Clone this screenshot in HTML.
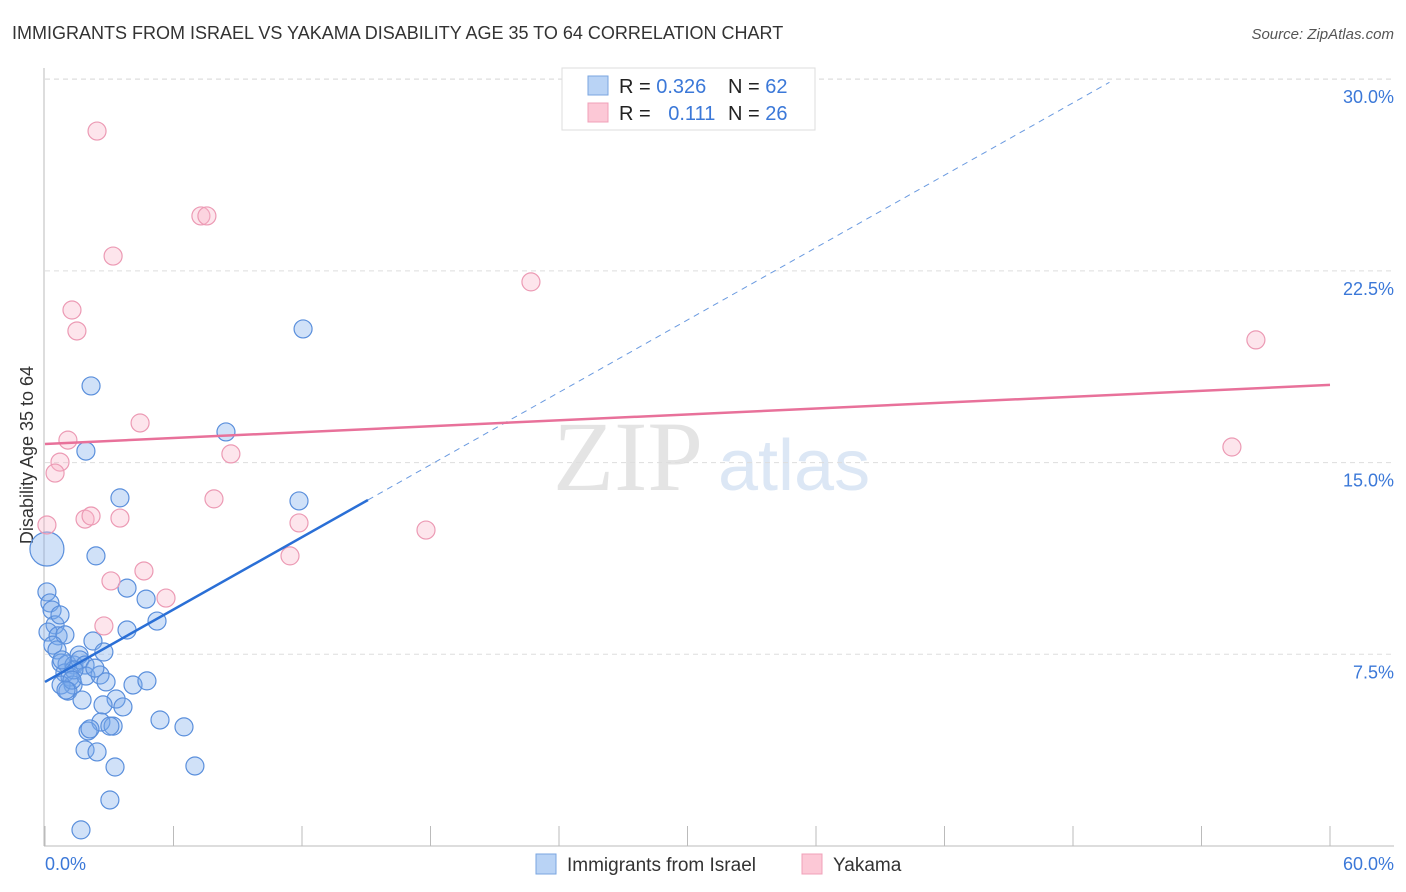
<!DOCTYPE html>
<html><head><meta charset="utf-8"><style>
body{margin:0;background:#fff;font-family:"Liberation Sans",sans-serif;}
svg{display:block}
</style></head><body>
<svg id="chart" width="1406" height="892" xmlns="http://www.w3.org/2000/svg">
<text x="12" y="39" font-size="18" fill="#333">IMMIGRANTS FROM ISRAEL VS YAKAMA DISABILITY AGE 35 TO 64 CORRELATION CHART</text>
<text x="1394" y="39" font-size="15" fill="#555" font-style="italic" text-anchor="end">Source: ZipAtlas.com</text>
<text x="553" y="490" font-size="100" fill="#e4e4e4" font-family="Liberation Serif,serif">ZIP</text>
<text x="718" y="490" font-size="72" fill="#dce7f5">atlas</text>
<text transform="translate(33,455) rotate(-90)" font-size="18" fill="#333" text-anchor="middle">Disability Age 35 to 64</text>
<g id="grid"></g><g id="axes"></g><g id="marks"></g>
<g>
<rect x="562" y="68" width="253" height="62" fill="#fff" stroke="#ddd"/>
<rect x="588" y="76" width="20" height="19" fill="#b9d3f5" stroke="#7aa6e0"/>
<rect x="588" y="103" width="20" height="19" fill="#fcc8d6" stroke="#f0a0b8"/>
<text x="619" y="93" font-size="20" fill="#222">R = <tspan fill="#3b78d8">0.326</tspan></text>
<text x="728" y="93" font-size="20" fill="#222">N = <tspan fill="#3b78d8">62</tspan></text>
<text x="619" y="120" font-size="20" fill="#222">R = <tspan fill="#3b78d8" dx="12">0.111</tspan></text>
<text x="728" y="120" font-size="20" fill="#222">N = <tspan fill="#3b78d8">26</tspan></text>
</g>
<g>
<rect x="536" y="854" width="20" height="20" fill="#b9d3f5" stroke="#7aa6e0"/>
<text x="567" y="871" font-size="19" fill="#333">Immigrants from Israel</text>
<rect x="802" y="854" width="20" height="20" fill="#fcc8d6" stroke="#f0a0b8"/>
<text x="833" y="871" font-size="19" fill="#333">Yakama</text>
</g>
</svg>
<script>
const israelX=[0.09,0.09,0.23,0.33,0.47,0.14,0.61,0.93,0.37,0.56,0.75,1.03,1.35,0.93,1.17,1.31,0.75,1.07,1.59,1.63,1.87,1.91,2.24,2.15,1.91,2.38,3.50,3.83,3.83,4.72,5.23,2.75,2.57,2.85,2.33,1.73,3.32,3.64,4.11,4.76,2.71,2.61,3.18,2.01,2.10,1.87,2.43,3.27,3.03,1.68,5.37,6.49,7.00,8.45,12.05,11.86,3.03,1.35,1.26,0.98,0.79,0.70];
const israelY=[11.62,9.94,9.51,9.23,8.65,8.37,8.22,8.26,7.86,7.67,7.16,7.12,7.08,6.77,6.61,6.30,6.30,6.06,7.47,7.28,7.08,6.65,8.02,18.0,15.45,11.35,13.62,10.09,8.45,9.66,8.80,7.59,6.69,6.42,6.96,5.71,5.75,5.44,6.30,6.46,5.52,4.85,4.69,4.50,4.58,3.76,3.68,3.09,1.80,0.63,4.93,4.66,3.13,16.2,20.23,13.5,4.69,6.89,6.49,6.10,7.28,9.04];
const yakamaX=[2.43,7.28,7.56,3.18,1.26,1.49,4.44,1.07,0.70,0.47,0.09,1.87,2.15,3.50,7.89,8.68,3.08,4.62,5.65,2.75,11.86,11.44,17.79,22.69,56.54,55.42];
const yakamaY=[27.97,24.65,24.65,23.08,20.97,20.15,16.55,15.88,15.02,14.59,12.56,12.79,12.91,12.83,13.58,15.34,10.37,10.76,9.70,8.61,12.64,11.35,12.36,22.07,19.8,15.61];
const yTicks=[7.5,15.0,22.5,30.0];
const yTickLabels=["7.5%","15.0%","22.5%","30.0%"];
const xTicks=[0,6,12,18,24,30,36,42,48,54,60];
const israelTrend=[6.42,0.472];
const yakamaTrend=[15.73,0.0385];

const NS="http://www.w3.org/2000/svg";
const X=v=>45+v*1285/60, Y=v=>846-v*25.56;
function mk(tag,attrs,parent){const e=document.createElementNS(NS,tag);for(const k in attrs)e.setAttribute(k,attrs[k]);document.getElementById(parent).appendChild(e);return e;}
yTicks.forEach((t,i)=>{
  const l=mk('line',{x1:45,x2:1394,y1:Y(t),y2:Y(t),stroke:'#ddd','stroke-dasharray':'5,4'},'grid');
  
  
  const tx=mk('text',{x:1394,y:Y(t)+24,'font-size':18,fill:'#3b78d8','text-anchor':'end'},'axes');
  tx.textContent=yTickLabels[i];
  
  
});
const gtop=mk('line',{x1:45,x2:1394,y1:79,y2:79,stroke:'#ddd','stroke-dasharray':'5,4'},'grid');


const ya=mk('line',{x1:44,x2:44,y1:68,y2:846,stroke:'#bbb'},'axes');


const xa=mk('line',{x1:44,x2:1394,y1:846,y2:846,stroke:'#bbb'},'axes');


xTicks.forEach(t=>{
  const l=mk('line',{x1:X(t),x2:X(t),y1:826,y2:846,stroke:'#bbb'},'axes');
  
  
});
const xl0=mk('text',{x:45,y:870,'font-size':18,fill:'#3b78d8'},'axes');xl0.textContent='0.0%';


const xl1=mk('text',{x:1394,y:870,'font-size':18,fill:'#3b78d8','text-anchor':'end'},'axes');xl1.textContent='60.0%';


israelX.forEach((x,i)=>{
  const c=mk('circle',{cx:X(x),cy:Y(israelY[i]),r:(i===0?17:9),fill:'rgba(120,170,235,0.35)',stroke:'#5a8fdc','stroke-width':1.2},'marks');
  
  
});
yakamaX.forEach((x,i)=>{
  const c=mk('circle',{cx:X(x),cy:Y(yakamaY[i]),r:9,fill:'rgba(250,180,200,0.35)',stroke:'#ec9ab4','stroke-width':1.2},'marks');
  
  
});
const ie=15.08, id=49.7;
const t1=mk('line',{x1:X(0),y1:Y(israelTrend[0]),x2:X(ie),y2:Y(israelTrend[0]+israelTrend[1]*ie),stroke:'#2a6fd6','stroke-width':2.5},'marks');


const t2=mk('line',{x1:X(ie),y1:Y(israelTrend[0]+israelTrend[1]*ie),x2:X(id),y2:Y(israelTrend[0]+israelTrend[1]*id),stroke:'#6a9ae0','stroke-width':1,'stroke-dasharray':'6,5'},'marks');


const t3=mk('line',{x1:X(0),y1:Y(yakamaTrend[0]),x2:X(60),y2:Y(yakamaTrend[0]+yakamaTrend[1]*60),stroke:'#e8719a','stroke-width':2.5},'marks');


</script>
</body></html>
